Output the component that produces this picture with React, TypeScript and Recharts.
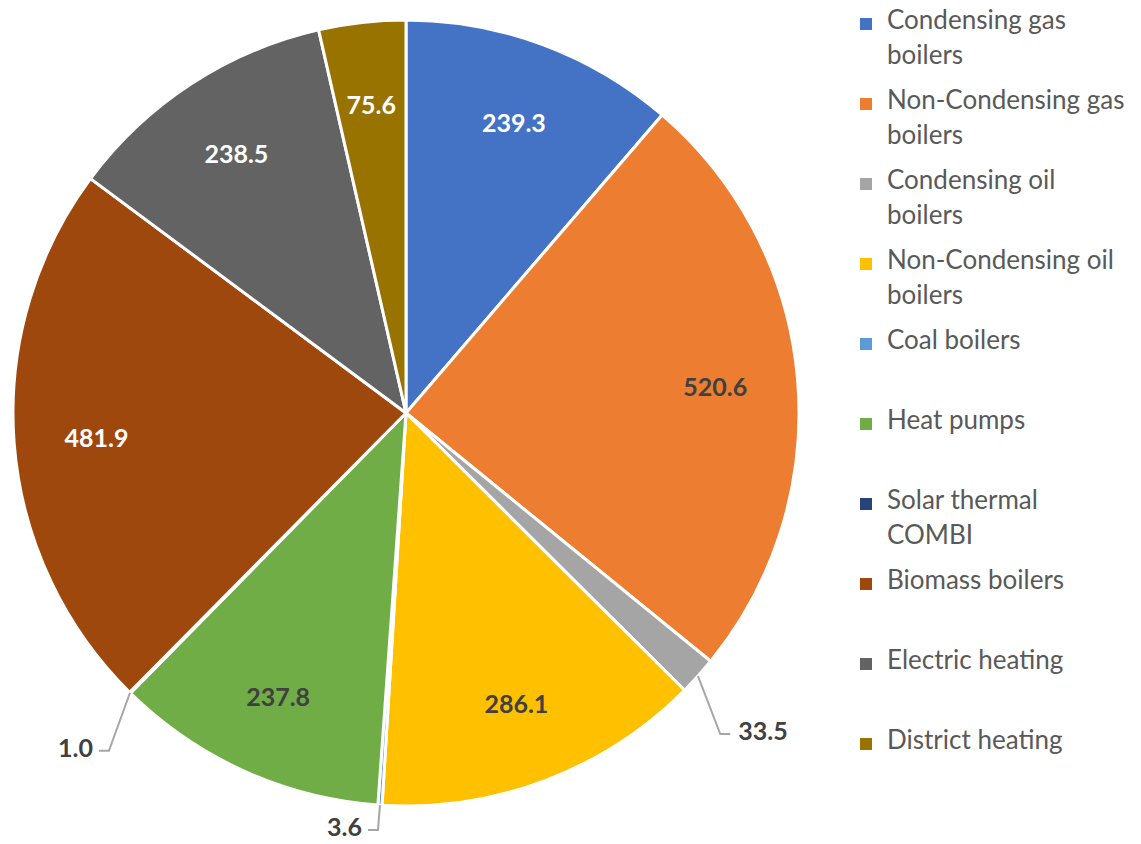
import { PieChart, Pie, Cell, Legend } from 'recharts';

const categories = [
  'Condensing gas boilers',
  'Non-Condensing gas boilers',
  'Condensing oil boilers',
  'Non-Condensing oil boilers',
  'Coal boilers',
  'Heat pumps',
  'Solar thermal COMBI',
  'Biomass boilers',
  'Electric heating',
  'District heating',
];

const values = [239.3, 520.6, 33.5, 286.1, 3.6, 237.8, 1.0, 481.9, 238.5, 75.6];

const colors = [
  '#4472C4', '#ED7D31', '#A5A5A5', '#FFC000', '#5B9BD5',
  '#70AD47', '#264478', '#9E480E', '#636363', '#997300',
];

// label ink per slice: white on the dark ones
const labelInk = [
  '#FFFFFF', '#404040', '#404040', '#404040', '#404040',
  '#404040', '#404040', '#FFFFFF', '#FFFFFF', '#FFFFFF',
];

const data = categories.map((name, i) => ({ name, value: values[i] }));

const RAD = Math.PI / 180;
const FONT = 'Lato, "Open Sans", sans-serif';

const renderLabel = (props: any) => {
  const { cx, cy, midAngle, outerRadius, percent, value, index } = props;
  const cos = Math.cos(-midAngle * RAD);
  const sin = Math.sin(-midAngle * RAD);
  const text = Number(value).toFixed(1);

  if (percent < 0.02) {
    // small slices: leader line going down and out
    const ex = cx + outerRadius * cos;
    const ey = cy + outerRadius * sin;
    const lx = ex + 30 * cos;
    const ly = Math.min(ey + 58, cy + outerRadius + 24);
    const right = cos >= 0;
    const hx = lx + (right ? 10 : -10);
    return (
      <g>
        <polyline
          points={`${ex},${ey} ${lx},${ly} ${hx},${ly}`}
          fill="none"
          stroke="#A6A6A6"
          strokeWidth={2}
        />
        <text
          x={right ? hx + 8 : hx - 6}
          y={ly - 4}
          textAnchor={right ? 'start' : 'end'}
          dominantBaseline="central"
          fill="#404040"
          fontSize={25}
          fontWeight="bold"
          fontFamily={FONT}
        >
          {text}
        </text>
      </g>
    );
  }

  const r = outerRadius * 0.79;
  return (
    <text
      x={cx + r * cos}
      y={cy + r * sin}
      textAnchor="middle"
      dominantBaseline="central"
      fill={labelInk[index]}
      fontSize={25}
      fontWeight="bold"
      fontFamily={FONT}
    >
      {text}
    </text>
  );
};

const LegendBox = () => (
  <div style={{ fontFamily: FONT, color: '#595959', fontSize: 26 }}>
    {categories.map((name, i) => (
      <div key={name} style={{ display: 'flex', height: 80, alignItems: 'flex-start' }}>
        <div
          style={{
            width: 12,
            height: 12,
            background: colors[i],
            marginTop: 10,
            marginRight: 15,
            flexShrink: 0,
          }}
        />
        <div style={{ lineHeight: '35px', marginTop: -6, width: 239 }}>{name}</div>
      </div>
    ))}
  </div>
);

export default function App() {
  return (
    <PieChart width={1133} height={836}>
      <Pie
        data={data}
        dataKey="value"
        nameKey="name"
        cx={393}
        cy={400}
        outerRadius={393}
        startAngle={90}
        endAngle={-270}
        stroke="#FFFFFF"
        strokeWidth={3}
        label={renderLabel}
        labelLine={false}
        isAnimationActive={false}
      >
        {data.map((d, i) => (
          <Cell key={d.name} fill={colors[i]} />
        ))}
      </Pie>
      <Legend
        layout="vertical"
        align="right"
        verticalAlign="top"
        content={<LegendBox />}
        wrapperStyle={{ left: 852, top: 0, width: 280 }}
      />
    </PieChart>
  );
}
